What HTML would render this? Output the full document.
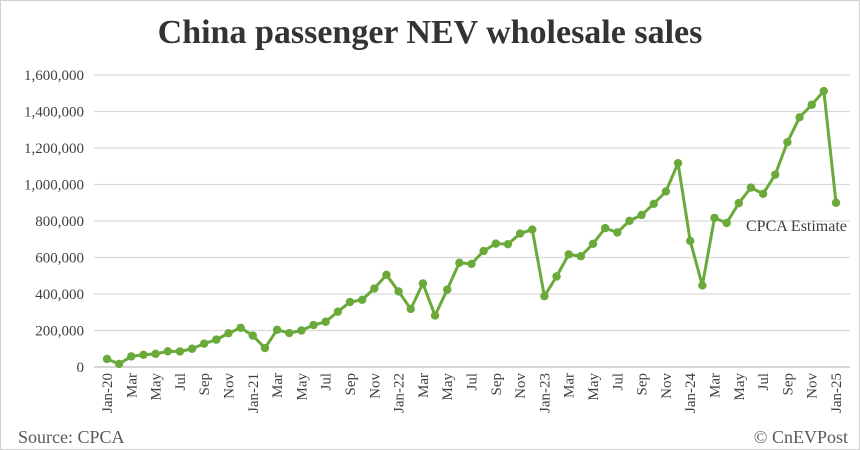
<!DOCTYPE html>
<html><head><meta charset="utf-8"><style>
body{margin:0;background:#fff}
svg{display:block;font-family:"Liberation Serif",serif}
</style></head><body>
<svg id="c" width="860" height="450" viewBox="0 0 860 450">
<rect x="0.5" y="0.5" width="859" height="449" fill="#fff" stroke="#d0d0d0"/>
<text x="430" y="43" text-anchor="middle" font-size="34" font-weight="bold" fill="#333">China passenger NEV wholesale sales</text>
<g id="grid"></g><g id="yt"></g><g id="xt"></g><g id="ser"></g>
<text x="746" y="231" font-size="16" fill="#404040">CPCA Estimate</text>
<text x="18" y="443" font-size="18" fill="#595959">Source: CPCA</text>
<text x="848" y="443" text-anchor="end" font-size="18" fill="#595959">© CnEVPost</text>
</svg>
<script>
const months=["Jan","Feb","Mar","Apr","May","Jun","Jul","Aug","Sep","Oct","Nov","Dec"];
const years=["20","21","22","23","24","25"];
const sales=[44000,17000,58000,67000,72000,86000,85000,100000,128000,150000,185000,215000,
172000,104000,204000,186000,200000,230000,248000,303000,356000,368000,430000,505000,
414000,318000,458000,282000,424000,571000,565000,636000,676000,673000,731000,753000,
388000,496000,617000,607000,675000,761000,737000,801000,833000,894000,962000,1117000,
691000,447000,817000,789000,898000,983000,949000,1054000,1232000,1368000,1437000,1512000,900000];
const yTicks=[0,200000,400000,600000,800000,1000000,1200000,1400000,1600000];
const NS="http://www.w3.org/2000/svg";
const x0=107,x1=836,y0=367,y1=75,ymax=1600000;
const xs=i=>x0+(x1-x0)*i/(sales.length-1);
const ys=v=>y0-(y0-y1)*v/ymax;
function mk(t,a,p){const e=document.createElementNS(NS,t);for(const k in a)e.setAttribute(k,a[k]);p.appendChild(e);return e;}
const g=document.getElementById('grid'),yt=document.getElementById('yt'),xt=document.getElementById('xt'),ser=document.getElementById('ser');
yTicks.forEach(v=>{
 const l=mk('line',{x1:94,x2:850,y1:ys(v),y2:ys(v),stroke:v===0?'#bfbfbf':'#d9d9d9','stroke-width':1.3},g);
 
 
 const t=mk('text',{x:84,y:ys(v)+5,'text-anchor':'end','font-size':15,fill:'#404040'},yt);
 t.textContent=v.toLocaleString('en-US');
 
 
});
for(let i=0;i<sales.length;i+=2){
 const m=i%12,lab=m===0?months[0]+"-"+years[i/12]:months[m];
 const t=mk('text',{x:0,y:0,'text-anchor':'end','font-size':15,fill:'#404040',transform:`translate(${xs(i)+5},${y0+6}) rotate(-90)`},xt);
 t.textContent=lab;
 
 
}
const pl=mk('polyline',{points:sales.map((v,i)=>xs(i)+","+ys(v)).join(" "),fill:'none',stroke:'#6aaa3a','stroke-width':3,'stroke-linejoin':'round'},ser);


sales.forEach((v,i)=>{
 const c=mk('circle',{cx:xs(i),cy:ys(v),r:4.2,fill:'#6aaa3a'},ser);
 
 
});
</script>
</body></html>
